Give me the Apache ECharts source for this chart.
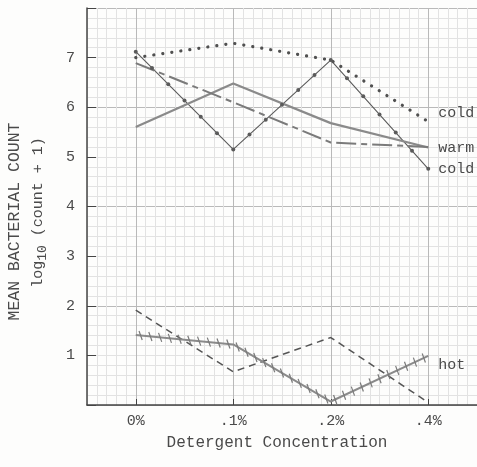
<!DOCTYPE html>
<html>
<head>
<meta charset="utf-8">
<script src="https://cdn.jsdelivr.net/npm/echarts@6/dist/echarts.min.js"></script>
<style>
  html, body { margin: 0; padding: 0; background: #fdfdfc; }
  #chart { width: 477px; height: 467px; }
</style>
</head>
<body>
<div id="chart"></div>
<script>
// Detergent concentrations on the x axis
const categories = ['0%', '.1%', '.2%', '.4%'];
// Labelled y ticks
const yTickLabels = ['1', '2', '3', '4', '5', '6', '7'];

// Mean log10(count + 1) per concentration
const coldDotted  = [7.0, 7.29, 6.95, 5.71];
const coldBeaded  = [7.12, 5.15, 6.95, 4.76];
const warmSolid   = [5.6, 6.48, 5.68, 5.19];
const warmDashDot = [6.89, 6.1, 5.29, 5.2];
const hotDashed   = [1.91, 0.67, 1.36, 0.05];
const hotHatched  = [1.41, 1.22, 0.07, 0.99];

const FONT = 'Liberation Mono';
const INK = '#4a4a4a';

const pairs = arr => arr.map((v, i) => [i, v]);

// repeat a cycle of colours so every tenth graph-paper line is darker
function paperColors(majorIndex) {
  const c = [];
  for (let i = 0; i < 10; i++) c.push(i === majorIndex ? '#b9b9b9' : '#e2e2e2');
  return c;
}

// helper: walk along each segment between consecutive points in pixel space
function segmentWalker(spacing, offset, makeMark) {
  return function (params, api) {
    const i = params.dataIndexInside;
    if (i >= params.dataInsideLength - 1) return;
    const a = api.coord([api.value(0, i), api.value(1, i)]);
    const b = api.coord([api.value(0, i + 1), api.value(1, i + 1)]);
    const len = Math.hypot(b[0] - a[0], b[1] - a[1]);
    const n = Math.max(1, Math.round(len / spacing));
    const children = [];
    for (let k = 0; k < n; k++) {
      const t = (k + offset) / n;
      if (t <= 0 || t >= 1) continue;
      children.push(makeMark(a[0] + (b[0] - a[0]) * t, a[1] + (b[1] - a[1]) * t));
    }
    return { type: 'group', children: children };
  };
}

const chart = echarts.init(document.getElementById('chart'), null, { renderer: 'canvas' });

const endLabel = (text, dy) => ({
  show: true,
  formatter: text,
  distance: 10,
  offset: [0, dy],
  color: INK,
  fontFamily: FONT,
  fontSize: 15
});

chart.setOption({
  animation: false,
  backgroundColor: '#fdfdfc',
  grid: { left: 87, right: 0, top: 8, bottom: 62, containLabel: false, outerBoundsMode: 'none' },
  xAxis: [
    {
      type: 'category',
      data: categories,
      boundaryGap: true,
      position: 'bottom',
      z: 2,
      axisLine: { show: true, lineStyle: { color: '#444', width: 1.5 } },
      axisTick: { show: true, inside: true, alignWithLabel: true, length: 6, lineStyle: { color: '#444' } },
      axisLabel: { color: INK, fontFamily: FONT, fontSize: 15, margin: 9 },
      splitLine: { show: false },
      name: 'Detergent Concentration',
      nameLocation: 'middle',
      nameGap: 30,
      nameTextStyle: { color: INK, fontFamily: FONT, fontSize: 16, padding: [0, 10, 0, 0] }
    },
    {
      // graph paper, vertical rules
      type: 'value',
      min: 0, max: 40, interval: 1,
      position: 'bottom',
      z: 0,
      axisLine: { show: false }, axisTick: { show: false }, axisLabel: { show: false },
      splitLine: { show: true, lineStyle: { color: paperColors(5), width: 1 } }
    }
  ],
  yAxis: [
    {
      type: 'value',
      min: 0, max: 8, interval: 1,
      position: 'left',
      z: 2,
      axisLine: { show: true, lineStyle: { color: '#444', width: 1.5 } },
      axisTick: { show: true, inside: true, length: 9, lineStyle: { color: '#444' } },
      axisLabel: {
        color: INK, fontFamily: FONT, fontSize: 15, margin: 12,
        formatter: v => (yTickLabels.indexOf(String(v)) >= 0 ? String(v) : '')
      },
      splitLine: { show: false },
      name: 'MEAN BACTERIAL COUNT',
      nameLocation: 'middle',
      nameGap: 64,
      nameRotate: 90,
      nameTextStyle: { color: INK, fontFamily: FONT, fontSize: 16.5, padding: [0, 30, 0, 0] }
    },
    {
      // graph paper, horizontal rules
      type: 'value',
      min: 0, max: 40, interval: 1,
      position: 'left',
      z: 0,
      axisLine: { show: false }, axisTick: { show: false }, axisLabel: { show: false },
      splitLine: { show: true, lineStyle: { color: paperColors(0), width: 1 } },
      name: 'log{s|10} (count + 1)',
      nameLocation: 'middle',
      nameGap: 38,
      nameRotate: 90,
      nameTextStyle: {
        color: INK, fontFamily: FONT, fontSize: 15, padding: [0, 12, 0, 0],
        rich: { s: { fontFamily: FONT, fontSize: 13, color: INK, padding: [9, 0, 0, 0] } }
      }
    }
  ],
  series: [
    {
      name: 'cold (dotted)',
      type: 'line',
      data: pairs(coldDotted),
      symbol: 'none',
      lineStyle: { color: '#505050', width: 3.2, type: [0.1, 9], cap: 'round' },
      endLabel: endLabel('cold', -9),
      z: 3
    },
    {
      name: 'cold (beaded)',
      type: 'line',
      data: pairs(coldBeaded),
      symbol: 'circle',
      symbolSize: 4,
      itemStyle: { color: '#5a5a5a' },
      lineStyle: { color: '#5a5a5a', width: 1.1 },
      endLabel: endLabel('cold', 0),
      z: 3
    },
    {
      name: 'warm',
      type: 'line',
      data: pairs(warmSolid),
      symbol: 'none',
      lineStyle: { color: '#8a8a8a', width: 2.2 },
      endLabel: endLabel('warm', 1),
      z: 3
    },
    {
      name: 'warm (dash-dot)',
      type: 'line',
      data: pairs(warmDashDot),
      symbol: 'none',
      lineStyle: { color: '#7a7a7a', width: 2, type: [20, 5, 6, 5] },
      z: 3
    },
    {
      name: 'hot (dashed)',
      type: 'line',
      data: pairs(hotDashed),
      symbol: 'none',
      lineStyle: { color: '#555', width: 1.5, type: [7, 5] },
      z: 3
    },
    {
      name: 'hot',
      type: 'line',
      data: pairs(hotHatched),
      symbol: 'none',
      lineStyle: { color: '#8a8a8a', width: 2 },
      endLabel: endLabel('hot', 9),
      z: 3
    },
    {
      // beads along the thin "cold" line
      type: 'custom',
      data: pairs(coldBeaded),
      renderItem: segmentWalker(23, 0, (x, y) => ({
        type: 'circle',
        shape: { cx: x, cy: y, r: 2 },
        style: { fill: '#5a5a5a' }
      })),
      z: 4,
      silent: true
    },
    {
      // cross hatching on the "hot" line
      type: 'custom',
      data: pairs(hotHatched),
      renderItem: segmentWalker(10, 0.5, (x, y) => ({
        type: 'line',
        shape: { x1: x - 1.6, y1: y - 4.5, x2: x + 1.6, y2: y + 4.5 },
        style: { stroke: '#7a7a7a', lineWidth: 1.2 }
      })),
      z: 4,
      silent: true
    }
  ]
});
</script>
</body>
</html>
